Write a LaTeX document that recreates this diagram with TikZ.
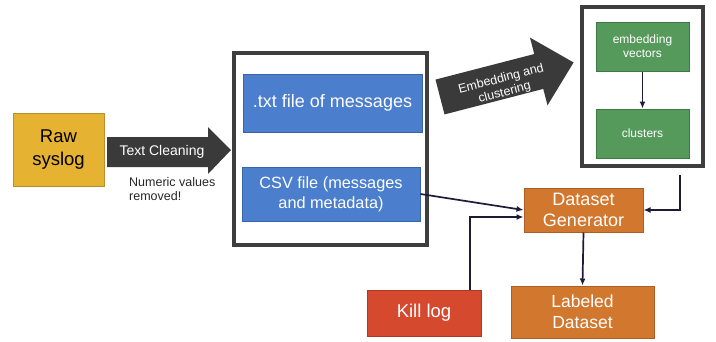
\documentclass[tikz,border=0pt]{standalone}
\usepackage{fontspec}
\setmainfont{Liberation Sans}
\usetikzlibrary{arrows.meta,calc}
\definecolor{yelF}{HTML}{E6B232}
\definecolor{yelD}{HTML}{B8902A}
\definecolor{bluF}{HTML}{4B7ECC}
\definecolor{bluD}{HTML}{3A64A8}
\definecolor{grnF}{HTML}{559A5B}
\definecolor{grnD}{HTML}{3D7845}
\definecolor{orgF}{HTML}{D2772E}
\definecolor{orgD}{HTML}{A85E24}
\definecolor{redF}{HTML}{D5492F}
\definecolor{redD}{HTML}{A83A26}
\definecolor{frameC}{HTML}{3E3E3E}
\definecolor{arrC}{HTML}{3A3A3A}
\definecolor{lineC}{HTML}{1E1B36}
\tikzset{
  box/.style={draw, line width=1pt, inner sep=0pt, align=center, text=white},
  bigframe/.style={draw=frameC, line width=4pt, fill=white, inner sep=0pt},
  conn/.style={draw=lineC, line width=1.7pt, -{Latex[length=7pt,width=6pt]}},
}
\begin{document}
\begin{tikzpicture}[x=1pt,y=-1pt]
\useasboundingbox (0,0) rectangle (716,341);
% big frames
\node[bigframe, minimum width=193pt, minimum height=192pt] (big1) at (330.5,149) {};
\node[bigframe, minimum width=121pt, minimum height=159pt] (big2) at (642.5,86.5) {};
% boxes
\node[box, fill=yelF, draw=yelD, text=black, minimum width=91pt, minimum height=73pt,
  font=\fontsize{18.5}{23}\selectfont] (raw) at (58.5,149.5) {Raw\\syslog};
\node[box, fill=bluF, draw=bluD, minimum width=179pt, minimum height=58pt,
  font=\fontsize{18}{20}\selectfont] (txt) at (332.5,103) {.txt file of messages};
\node[box, fill=bluF, draw=bluD, minimum width=178pt, minimum height=54pt,
  font=\fontsize{16.3}{20}\selectfont] (csv) at (331,194) {CSV file (messages\\and metadata)};
\node[box, fill=grnF, draw=grnD, minimum width=93pt, minimum height=49pt,
  font=\fontsize{12}{14}\selectfont] (emb) at (642.5,46.5) {embedding\\vectors};
\node[box, fill=grnF, draw=grnD, minimum width=93pt, minimum height=49pt,
  font=\fontsize{12}{14}\selectfont] (clu) at (642.5,133.5) {clusters};
\node[box, fill=orgF, draw=orgD, minimum width=119pt, minimum height=44pt,
  font=\fontsize{18}{21}\selectfont] (gen) at (583.5,210) {Dataset\\Generator};
\node[box, fill=orgF, draw=orgD, minimum width=143pt, minimum height=52pt,
  font=\fontsize{17.5}{21}\selectfont] (lab) at (582.5,312) {Labeled\\Dataset};
\node[box, fill=redF, draw=redD, minimum width=114pt, minimum height=46pt,
  font=\fontsize{18.5}{22}\selectfont] (kill) at (424,313) {Kill log};
% Text cleaning arrow
\fill[arrC] (107,137) -- (208,137) -- (208,127) -- (231,150) -- (208,174) -- (208,167) -- (107,167) -- cycle;
\node[text=white, font=\fontsize{14}{16}\selectfont] (tc) at (162,152) {Text Cleaning};
\node[anchor=north west, align=left, text=black!85, inner sep=0pt,
  font=\fontsize{12.5}{14}\selectfont] (nv) at (129,177) {Numeric values\\removed!};
% Embedding arrow
\begin{scope}[shift={(440,97)}, rotate=14.5]
\fill[arrC] (0,-18) -- (102,-18) -- (102,-35) -- (138,0) -- (102,35) -- (102,18) -- (0,18) -- cycle;
\end{scope}
\node[text=white, rotate=14.5, align=center, inner sep=0pt, font=\fontsize{12.5}{14}\selectfont] (ec) at (503,86) {Embedding and\\clustering};
% connectors
\draw[conn] (emb.south) -- (clu.north);
\draw[conn] (csv.east) -- (gen.west);
\draw[conn] ([xshift=46pt]kill.north) |- ([yshift=-7pt]gen.west);
\draw[conn] ([xshift=37.5pt,yshift=-7pt]big2.south) |- (gen.east);
\draw[conn] (gen.south) -- (lab.north);
\end{tikzpicture}
\end{document}
